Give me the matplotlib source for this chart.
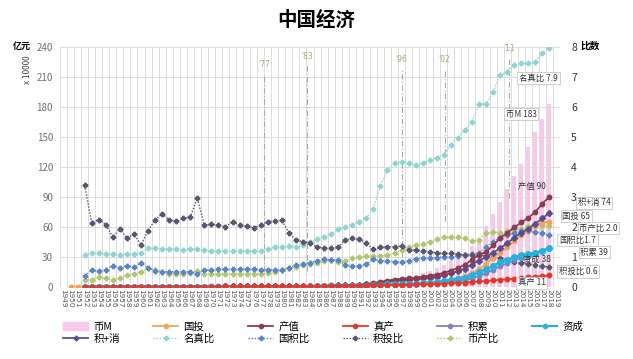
import numpy as np
import matplotlib
matplotlib.use("Agg")
import matplotlib.pyplot as plt
from matplotlib.patches import Patch
from matplotlib.lines import Line2D

plt.rcParams['font.family'] = ['Noto Sans CJK SC', 'DejaVu Sans']

years = list(range(1949, 2020))

# ---- level series (万亿元 = 亿元 x 10000), left axis ----
money_1978 = [0.17, 0.21, 0.26, 0.30, 0.36, 0.43, 0.55, 0.72, 0.90, 1.08,
              1.25, 1.48, 1.65, 2.0, 2.54, 3.49, 4.69, 6.08, 7.61, 9.10,
              10.45, 11.99, 13.46, 15.83, 18.50, 22.12, 25.32, 29.88, 34.56, 40.34,
              47.52, 60.62, 72.58, 85.16, 97.41, 110.65, 122.84, 139.23, 155.01, 167.68,
              182.67]
invest_1950 = [0.001, 0.002,
               0.0044, 0.009, 0.010, 0.010, 0.016, 0.015, 0.028, 0.035, 0.038, 0.013,
               0.007, 0.010, 0.014, 0.018, 0.021, 0.014, 0.011, 0.020, 0.029, 0.032,
               0.031, 0.032, 0.033, 0.039, 0.038, 0.038, 0.067, 0.070, 0.091, 0.096,
               0.123, 0.143, 0.183, 0.254, 0.312, 0.379, 0.475, 0.441, 0.452, 0.559,
               0.808, 1.31, 1.70, 2.00, 2.30, 2.49, 2.84, 2.99, 3.29, 3.72,
               4.35, 5.56, 7.05, 8.88, 11.0, 13.73, 17.28, 23.0, 29.0, 34.0,
               39.5, 45.5, 51.5, 56.5, 61.0, 64.2, 65.0]
gdp_1952 = [0.068, 0.082, 0.086, 0.091, 0.103, 0.107, 0.131, 0.144, 0.146, 0.122,
            0.115, 0.124, 0.145, 0.172, 0.187, 0.177, 0.172, 0.195, 0.226, 0.243,
            0.252, 0.272, 0.279, 0.300, 0.294, 0.320, 0.368, 0.410, 0.459, 0.489,
            0.532, 0.599, 0.721, 0.904, 1.03, 1.21, 1.51, 1.70, 1.87, 2.20,
            2.72, 3.57, 4.86, 6.13, 7.18, 7.97, 8.52, 9.06, 10.03, 11.09,
            12.17, 13.74, 16.18, 18.73, 21.94, 27.0, 31.92, 34.85, 41.21, 48.79,
            53.86, 59.30, 64.36, 68.89, 74.64, 83.20, 90.03]
real_1952 = [0.064, 0.074, 0.076, 0.083, 0.094, 0.10, 0.12, 0.13, 0.13, 0.095,
             0.09, 0.098, 0.116, 0.138, 0.153, 0.142, 0.138, 0.16, 0.19, 0.20,
             0.21, 0.23, 0.235, 0.25, 0.247, 0.27, 0.295, 0.313, 0.345, 0.36,
             0.40, 0.43, 0.48, 0.57, 0.62, 0.69, 0.79, 0.85, 0.91, 1.01,
             1.19, 1.37, 1.44, 1.58, 1.74, 1.91, 2.06, 2.23, 2.43, 2.63,
             2.83, 3.13, 3.42, 3.77, 4.20, 4.91, 5.24, 5.72, 6.34, 6.91,
             7.51, 8.02, 8.65, 9.26, 9.95, 10.67, 11.3]
accum_1952 = [0.013, 0.019, 0.022, 0.021, 0.026, 0.029, 0.045, 0.056, 0.053, 0.024,
              0.010, 0.018, 0.027, 0.037, 0.046, 0.031, 0.031, 0.042, 0.062, 0.066,
              0.062, 0.069, 0.068, 0.079, 0.074, 0.078, 0.109, 0.112, 0.116, 0.096,
              0.108, 0.129, 0.162, 0.239, 0.279, 0.313, 0.424, 0.404, 0.420, 0.490,
              0.656, 1.17, 1.54, 1.90, 2.10, 2.20, 2.33, 2.45, 2.68, 3.05,
              3.45, 4.20, 5.10, 5.80, 6.70, 8.30, 10.6, 13.5, 16.8, 20.5,
              23.4, 26.6, 29.0, 31.0, 33.0, 36.0, 39.0]
capform_1952 = [0.015, 0.020, 0.023, 0.022, 0.027, 0.030, 0.046, 0.057, 0.055, 0.026,
                0.012, 0.020, 0.028, 0.038, 0.047, 0.033, 0.033, 0.044, 0.064, 0.068,
                0.065, 0.071, 0.070, 0.081, 0.076, 0.080, 0.14, 0.15, 0.16, 0.17,
                0.18, 0.20, 0.25, 0.34, 0.39, 0.43, 0.55, 0.61, 0.64, 0.75,
                1.01, 1.54, 1.93, 2.39, 2.69, 2.80, 2.96, 3.10, 3.50, 4.00,
                4.60, 5.60, 6.90, 7.80, 9.20, 11.5, 14.5, 17.5, 21.0, 24.5,
                27.0, 29.5, 31.5, 32.5, 34.0, 36.0, 38.5]
acccons_1952 = [0.060, 0.071, 0.075, 0.079, 0.089, 0.091, 0.111, 0.123, 0.122, 0.100,
                0.094, 0.102, 0.118, 0.140, 0.153, 0.145, 0.140, 0.159, 0.184, 0.198,
                0.205, 0.222, 0.228, 0.245, 0.240, 0.262, 0.302, 0.338, 0.380, 0.405,
                0.440, 0.495, 0.595, 0.750, 0.850, 0.990, 1.24, 1.40, 1.52, 1.79,
                2.22, 2.95, 4.00, 5.05, 5.92, 6.55, 7.00, 7.45, 8.25, 9.10,
                10.0, 11.3, 13.3, 15.4, 18.0, 22.2, 26.2, 29.5, 34.0, 38.5,
                43.5, 49.0, 54.0, 58.0, 63.0, 68.4, 74.0]

# ---- ratio series, right axis (比数) ----
nomreal_1952 = [1.06, 1.11, 1.13, 1.09, 1.09, 1.06, 1.09, 1.09, 1.13, 1.28,
                1.28, 1.26, 1.25, 1.25, 1.22, 1.25, 1.25, 1.22, 1.19, 1.19,
                1.19, 1.19, 1.19, 1.19, 1.19, 1.19, 1.25, 1.31, 1.33, 1.36,
                1.33, 1.39, 1.50, 1.58, 1.67, 1.75, 1.91, 2.00, 2.06, 2.17,
                2.28, 2.60, 3.37, 3.89, 4.13, 4.17, 4.13, 4.06, 4.13, 4.22,
                4.30, 4.39, 4.73, 4.97, 5.22, 5.50, 6.09, 6.09, 6.50, 7.06,
                7.17, 7.39, 7.44, 7.44, 7.50, 7.80, 7.95]
invacc_1952 = [0.36, 0.55, 0.52, 0.57, 0.70, 0.63, 0.70, 0.65, 0.80, 0.63,
               0.52, 0.50, 0.50, 0.50, 0.50, 0.50, 0.43, 0.56, 0.56, 0.58,
               0.58, 0.58, 0.58, 0.58, 0.58, 0.57, 0.57, 0.56, 0.56, 0.63,
               0.72, 0.76, 0.80, 0.87, 0.91, 0.89, 0.89, 0.72, 0.69, 0.69,
               0.76, 0.91, 0.87, 0.87, 0.83, 0.82, 0.87, 0.93, 0.97, 0.97,
               0.97, 1.00, 1.00, 1.03, 1.07, 1.10, 1.13, 1.33, 1.50, 1.63,
               1.73, 1.80, 1.87, 1.85, 1.83, 1.78, 1.72]
accinv_1952 = [3.38, 2.13, 2.23, 2.07, 1.65, 1.93, 1.62, 1.75, 1.40, 1.87,
               2.23, 2.43, 2.23, 2.18, 2.28, 2.33, 2.95, 2.05, 2.08, 2.05,
               2.00, 2.17, 2.05, 2.02, 1.97, 2.05, 2.17, 2.19, 2.21, 1.80,
               1.56, 1.50, 1.45, 1.33, 1.28, 1.28, 1.31, 1.56, 1.61, 1.58,
               1.45, 1.25, 1.31, 1.33, 1.33, 1.36, 1.22, 1.22, 1.20, 1.17,
               1.13, 1.11, 1.11, 1.08, 1.06, 1.06, 1.06, 1.02, 1.00, 0.95,
               0.89, 0.83, 0.78, 0.76, 0.72, 0.69, 0.65]
moneygdp_1952 = [0.22, 0.24, 0.31, 0.28, 0.24, 0.28, 0.39, 0.43, 0.48, 0.63,
                 0.55, 0.50, 0.44, 0.42, 0.44, 0.47, 0.52, 0.44, 0.42, 0.42,
                 0.42, 0.42, 0.43, 0.42, 0.43, 0.43, 0.45, 0.50, 0.56, 0.61,
                 0.67, 0.72, 0.76, 0.80, 0.87, 0.89, 0.83, 0.87, 0.95, 0.98,
                 1.02, 1.03, 1.02, 1.06, 1.11, 1.22, 1.31, 1.39, 1.41, 1.50,
                 1.58, 1.67, 1.65, 1.65, 1.62, 1.53, 1.55, 1.80, 1.82, 1.80,
                 1.85, 1.90, 1.93, 2.03, 2.09, 2.03, 2.03]

events = ["'77", "'83", "'96", "'02", "'11"]
event_pos = [1977.5, 1983.6, 1997.0, 2003.1, 2012.3]
event_top = [213, 221, 218, 218, 229]
event_bottom = [16, 16, 30, 66, 89]

end_labels = ["名真比 7.9", "币M 183", "产值 90", "积+消 74", "国投 65", "币产比 2.0",
              "国积比1.7", "积累 39", "资成 38", "积投比 0.6", "真产 11"]


def full(start, vals):
    arr = np.full(len(years), np.nan)
    i0 = years.index(start)
    arr[i0:i0 + len(vals)] = vals
    return arr


x = np.arange(len(years))
W, H = 633, 359
fig = plt.figure(figsize=(W / 100, H / 100), dpi=100)
ax = fig.add_axes([60 / W, 1 - 286.7 / H, 500 / W, 240 / H])
ax2 = ax.twinx()

ax.set_xlim(-0.5, len(years) - 0.5)
ax.set_ylim(0, 240)
ax2.set_ylim(0, 8)
ax.set_zorder(2)
ax2.set_zorder(1)
ax.patch.set_visible(False)

# grid
for k in np.arange(-0.5, len(years), 1.0):
    ax2.axvline(k, color='#DCDCDC', lw=0.7, zorder=0)
for v in range(30, 241, 30):
    ax2.axhline(v / 30, color='#DCDCDC', lw=0.7, zorder=0)

# bars
ax2.bar(x, full(1978, money_1978) / 30, width=0.58, color='#F9C8EA', zorder=1)

# reference lines
for lab, p, t, b in zip(events, event_pos, event_top, event_bottom):
    xi = p - years[0]
    ax2.plot([xi, xi], [b / 30, t / 30], color='#A9A9A9', lw=0.8, ls=(0, (5, 2, 1, 2)), zorder=2)
    ax2.text(xi, t / 30 + 0.15, lab, color='#A8AA6A', fontsize=5.5, ha='center', va='bottom',
             family=['DejaVu Sans'])

# ratio series (right axis)
dot = (0, (1, 1.2))
ax2.plot(x, full(1952, nomreal_1952), color='#8FD6D2', ls=dot, lw=1.0, marker='P', ms=3.2, zorder=3)
ax2.plot(x, full(1952, moneygdp_1952), color='#B2C76E', ls=dot, lw=1.0, marker='P', ms=3.2, zorder=3)
ax2.plot(x, full(1952, invacc_1952), color='#5C85C8', ls=dot, lw=1.0, marker='P', ms=3.2, zorder=3)
ax2.plot(x, full(1952, accinv_1952), color='#5B5670', ls=dot, lw=1.0, marker='P', ms=3.2, zorder=3)

# level series (left axis)
ax.plot(x, full(1950, invest_1950), color='#F2A25A', lw=1.3, marker='o', ms=3.2, zorder=4)
ax.plot(x, full(1952, accum_1952), color='#8C7FB8', lw=1.3, marker='o', ms=3.2, zorder=4)
ax.plot(x, full(1952, acccons_1952), color='#5F4C8E', lw=1.3, marker='D', ms=3.0, zorder=4)
ax.plot(x, full(1952, gdp_1952), color='#8E3A50', lw=1.3, marker='o', ms=3.2, zorder=5)
ax.plot(x, full(1952, capform_1952), color='#22B2E3', lw=1.8, marker='o', ms=4.0, zorder=5)
ax.plot(x, full(1952, real_1952), color='#E8362C', lw=1.3, marker='o', ms=3.2, zorder=6)

# axes cosmetics
for a in (ax, ax2):
    for s in a.spines.values():
        s.set_visible(False)
    a.tick_params(length=0)
ax.set_yticks(range(0, 241, 30))
ax.tick_params(axis='y', labelsize=7, labelcolor='#707070', pad=5)
ax2.set_yticks(range(0, 9))
ax2.tick_params(axis='y', labelsize=7.5, labelcolor='#333333', pad=8)
ax.set_xticks(x)
ax.set_xticklabels([str(y) for y in years], rotation=-90, fontsize=5.2, color='#555555',
                   family=['DejaVu Sans'])
ax.tick_params(axis='x', pad=2)

# axis titles
fig.text(22 / W, 1 - 46 / H, '亿元', fontsize=6.5, fontweight='bold', ha='center', va='center')
fig.text(28 / W, 1 - 70 / H, 'x 10000', fontsize=6, rotation=90, ha='center', va='center',
         color='#444444')
fig.text(590 / W, 1 - 46 / H, '比数', fontsize=7, fontweight='bold', ha='center', va='center')
fig.text(316 / W, 1 - 20 / H, '中国经济', fontsize=14, fontweight='bold', ha='center', va='center')

# end labels (pixel positions -> data)
lab_px = [(539, 78, True), (521.5, 114, True), (532, 187, False), (595, 203, True),
          (577, 216, True), (599, 228, True), (578, 240, True), (595, 252, True),
          (537, 259, False), (579, 271.5, True), (532, 283, True)]
for txt, (px, py, boxed) in zip(end_labels, lab_px):
    xd = (px - 63.5) / 7.05
    yd = 286.7 - py
    kw = dict(fontsize=6, ha='center', va='center', color='#333333', zorder=10, clip_on=False)
    if boxed:
        kw['bbox'] = dict(boxstyle='square,pad=0.2', fc='white', ec='#C8C8C8', lw=0.6)
    ax.text(xd, yd, txt, **kw)

# legend (row-wise order)
h = {
    '币M': Patch(color='#F9C8EA'),
    '国投': Line2D([], [], color='#F2A25A', lw=1.3, marker='o', ms=3),
    '产值': Line2D([], [], color='#8E3A50', lw=1.3, marker='o', ms=3),
    '真产': Line2D([], [], color='#E8362C', lw=1.3, marker='o', ms=3),
    '积累': Line2D([], [], color='#8C7FB8', lw=1.3, marker='o', ms=3),
    '资成': Line2D([], [], color='#22B2E3', lw=1.5, marker='o', ms=3),
    '积+消': Line2D([], [], color='#5F4C8E', lw=1.3, marker='D', ms=2.5),
    '名真比': Line2D([], [], color='#8FD6D2', lw=1.0, ls=dot, marker='P', ms=3),
    '国积比': Line2D([], [], color='#5C85C8', lw=1.0, ls=dot, marker='P', ms=3),
    '积投比': Line2D([], [], color='#5B5670', lw=1.0, ls=dot, marker='P', ms=3),
    '币产比': Line2D([], [], color='#B2C76E', lw=1.0, ls=dot, marker='P', ms=3),
}
order = ['币M', '积+消', '国投', '名真比', '产值', '国积比', '真产', '积投比', '积累', '币产比', '资成']
fig.legend([h[k] for k in order], order, loc='upper left', bbox_to_anchor=(54 / W, 1 - 312 / H),
           ncol=6, frameon=False, fontsize=7.5, handlelength=2.4, columnspacing=3.2,
           handletextpad=0.5, labelspacing=0.2)

fig.savefig('out.png', dpi=100)
